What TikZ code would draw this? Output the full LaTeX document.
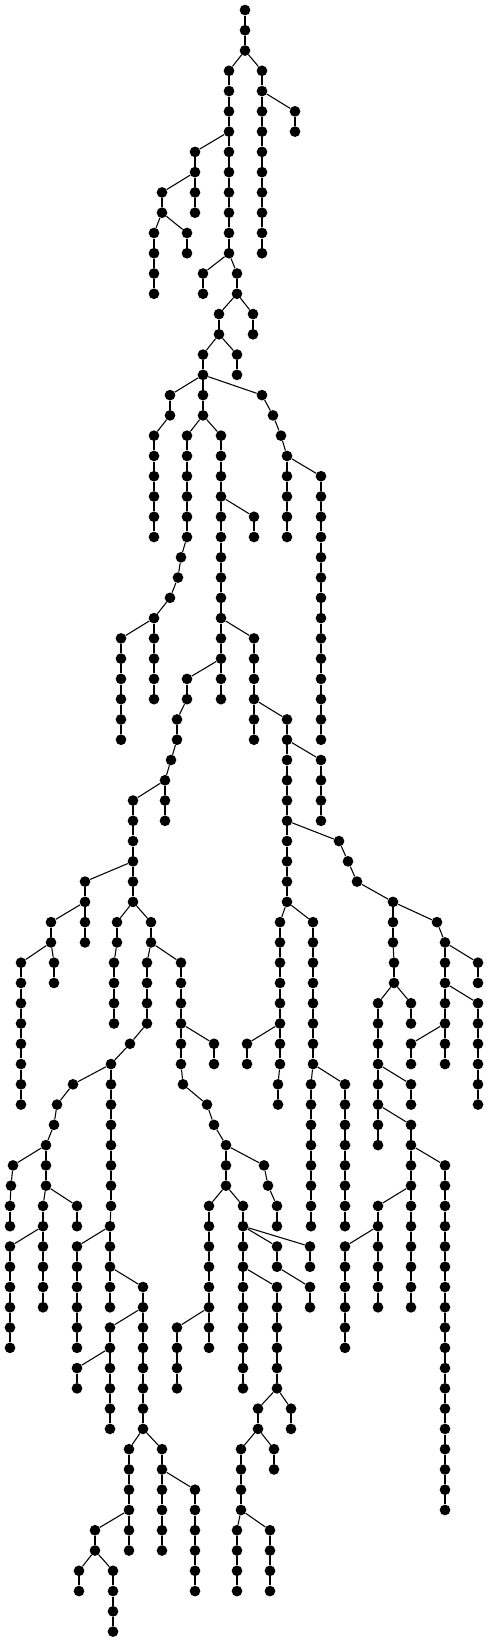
\documentclass[tikz,border=0pt]{standalone}
\usetikzlibrary{arrows.meta}
\tikzset{>=latex}
\tikzset{vtx/.style={circle,fill=black,inner sep=0pt,minimum size=8pt},
         twig/.style={black,line width=0.8pt}}

\begin{document}
\begin{tikzpicture}[x=0.75pt,y=-0.75pt]
            \useasboundingbox (0,0) rectangle (488,1642);

            % root of the tree
            \node[vtx] (n0-245) at (245,10) {};

            % level/x/x of parent one level up
            \foreach \lev/\xx/\pa in {
              1/245/245, 2/245/245,
              3/229/245, 3/262/245,
              4/229/229, 4/262/262,
              5/229/229, 5/262/262, 5/295/262,
              6/229/229, 6/262/262, 6/295/295,
              7/195/229, 7/229/229, 7/262/262,
              8/195/195, 8/229/229, 8/262/262,
              9/162/195, 9/195/195, 9/229/229, 9/262/262,
              10/162/162, 10/195/195, 10/229/229, 10/262/262,
              11/154/162, 11/187/162, 11/229/229, 11/262/262,
              12/154/154, 12/187/187, 12/229/229, 12/262/262,
              13/154/154, 13/203/229, 13/237/229,
              14/154/154, 14/203/203, 14/237/237,
              15/219/237, 15/253/237,
              16/219/219, 16/253/253,
              17/203/219, 17/237/219,
              18/203/203, 18/237/237,
              19/170/203, 19/203/203, 19/262/203,
              20/170/170, 20/203/203, 20/273/262,
              21/154/170, 21/187/203, 21/221/203, 21/281/273,
              22/154/154, 22/187/187, 22/221/221, 22/287/281,
              23/154/154, 23/187/187, 23/221/221, 23/287/287, 23/321/287,
              24/154/154, 24/187/187, 24/221/221, 24/287/287, 24/321/321,
              25/154/154, 25/187/187, 25/221/221, 25/254/221, 25/287/287, 25/321/321,
              26/154/154, 26/187/187, 26/221/221, 26/254/254, 26/287/287, 26/321/321,
              27/181/187, 27/221/221, 27/321/321,
              28/178/181, 28/221/221, 28/321/321,
              29/170/178, 29/221/221, 29/321/321,
              30/154/170, 30/221/221, 30/321/321,
              31/121/154, 31/154/154, 31/221/221, 31/254/221, 31/321/321,
              32/121/121, 32/154/154, 32/221/221, 32/254/254, 32/321/321,
              33/121/121, 33/154/154, 33/187/221, 33/221/221, 33/254/254, 33/321/321,
              34/121/121, 34/154/154, 34/187/187, 34/221/221, 34/254/254, 34/321/321,
              35/121/121, 35/177/187, 35/254/254, 35/287/254, 35/321/321,
              36/121/121, 36/177/177, 36/254/254, 36/287/287, 36/321/321,
              37/171/177, 37/287/287, 37/321/287,
              38/165/171, 38/287/287, 38/321/321,
              39/133/165, 39/165/165, 39/287/287, 39/321/321,
              40/133/133, 40/165/165, 40/287/287, 40/321/321,
              41/133/133, 41/287/287, 41/339/287,
              42/133/133, 42/287/287, 42/348/339,
              43/85/133, 43/133/133, 43/287/287, 43/357/348,
              44/85/85, 44/133/133, 44/287/287, 44/393/357,
              45/51/85, 45/85/85, 45/117/133, 45/151/133, 45/280/287, 45/313/287, 45/393/393, 45/437/393,
              46/51/51, 46/85/85, 46/117/117, 46/151/151, 46/280/280, 46/313/313, 46/393/393, 46/445/437,
              47/21/51, 47/54/51, 47/114/117, 47/147/151, 47/181/151, 47/280/280, 47/313/313, 47/394/393, 47/445/445, 47/478/445,
              48/21/21, 48/54/54, 48/114/114, 48/147/147, 48/181/181, 48/280/280, 48/313/313, 48/394/394, 48/445/445, 48/478/478,
              49/21/21, 49/114/114, 49/147/147, 49/181/181, 49/280/280, 49/313/313, 49/378/394, 49/411/394, 49/445/445, 49/478/445,
              50/21/21, 50/114/114, 50/147/147, 50/181/181, 50/280/280, 50/313/313, 50/378/378, 50/411/411, 50/445/445, 50/478/478,
              51/21/21, 51/130/147, 51/181/181, 51/214/181, 51/247/280, 51/280/280, 51/313/313, 51/378/378, 51/411/445, 51/445/445, 51/478/478,
              52/21/21, 52/111/130, 52/181/181, 52/214/214, 52/247/247, 52/280/280, 52/313/313, 52/378/378, 52/411/411, 52/445/445, 52/478/478,
              53/21/21, 53/73/111, 53/111/111, 53/183/181, 53/278/280, 53/311/313, 53/345/313, 53/378/378, 53/411/378, 53/478/478,
              54/21/21, 54/57/73, 54/111/111, 54/207/183, 54/278/278, 54/311/311, 54/345/345, 54/378/378, 54/411/411, 54/478/478,
              55/54/57, 55/111/111, 55/214/207, 55/311/311, 55/345/345, 55/378/378, 55/411/378,
              56/46/54, 56/111/111, 56/226/214, 56/311/311, 56/345/345, 56/378/378, 56/411/411,
              57/13/46, 57/46/46, 57/111/111, 57/226/226, 57/264/226, 57/311/311, 57/345/345, 57/411/411, 57/445/411,
              58/11/13, 58/46/46, 58/111/111, 58/226/226, 58/268/264, 58/311/311, 58/345/345, 58/411/411, 58/445/445,
              59/10/11, 59/43/46, 59/77/46, 59/111/111, 59/209/226, 59/243/226, 59/277/268, 59/311/311, 59/345/345, 59/378/411, 59/411/411, 59/445/445,
              60/10/10, 60/43/43, 60/77/77, 60/110/111, 60/209/209, 60/243/243, 60/277/277, 60/311/311, 60/345/345, 60/378/378, 60/411/411, 60/445/445,
              61/10/43, 61/43/43, 61/77/110, 61/110/110, 61/209/209, 61/243/243, 61/277/243, 61/310/243, 61/345/378, 61/378/378, 61/411/411, 61/445/445,
              62/10/10, 62/43/43, 62/77/77, 62/110/110, 62/209/209, 62/243/243, 62/277/277, 62/310/310, 62/345/345, 62/378/378, 62/411/411, 62/445/445,
              63/10/10, 63/43/43, 63/77/77, 63/110/110, 63/143/110, 63/209/209, 63/243/243, 63/277/243, 63/310/277, 63/345/345, 63/378/378, 63/411/411, 63/445/445,
              64/10/10, 64/43/43, 64/77/77, 64/110/110, 64/143/143, 64/209/209, 64/243/243, 64/277/277, 64/310/310, 64/345/345, 64/378/378, 64/411/411, 64/445/445,
              65/10/10, 65/77/77, 65/110/143, 65/143/143, 65/177/209, 65/209/209, 65/243/243, 65/277/277, 65/345/345, 65/445/445,
              66/10/10, 66/77/77, 66/110/110, 66/143/143, 66/177/177, 66/209/209, 66/243/243, 66/277/277, 66/345/345, 66/445/445,
              67/77/110, 67/110/110, 67/143/143, 67/177/177, 67/243/243, 67/277/277, 67/445/445,
              68/77/77, 68/110/110, 68/143/143, 68/177/177, 68/243/243, 68/277/277, 68/445/445,
              69/110/110, 69/143/143, 69/258/277, 69/291/277, 69/445/445,
              70/110/110, 70/143/143, 70/258/258, 70/291/291, 70/445/445,
              71/129/143, 71/162/143, 71/241/258, 71/274/258, 71/445/445,
              72/129/129, 72/162/162, 72/241/241, 72/274/274, 72/445/445,
              73/129/129, 73/162/162, 73/195/162, 73/241/241, 73/445/445,
              74/129/129, 74/162/162, 74/195/195, 74/241/241, 74/445/445,
              75/95/129, 75/129/129, 75/162/162, 75/195/195, 75/237/241, 75/270/241,
              76/95/95, 76/129/129, 76/162/162, 76/195/195, 76/237/237, 76/270/270,
              77/79/95, 77/113/95, 77/195/195, 77/237/237, 77/270/270,
              78/79/79, 78/113/113, 78/195/195, 78/237/237, 78/270/270,
              79/113/113, 80/113/113}{
              \pgfmathtruncatemacro{\prev}{\lev-1}
              \node[vtx] (n\lev-\xx) at (\xx,{10+20.27*\lev}) {};
              \draw[twig] (n\prev-\pa) -- (n\lev-\xx);
            }
        \end{tikzpicture}
\end{document}
